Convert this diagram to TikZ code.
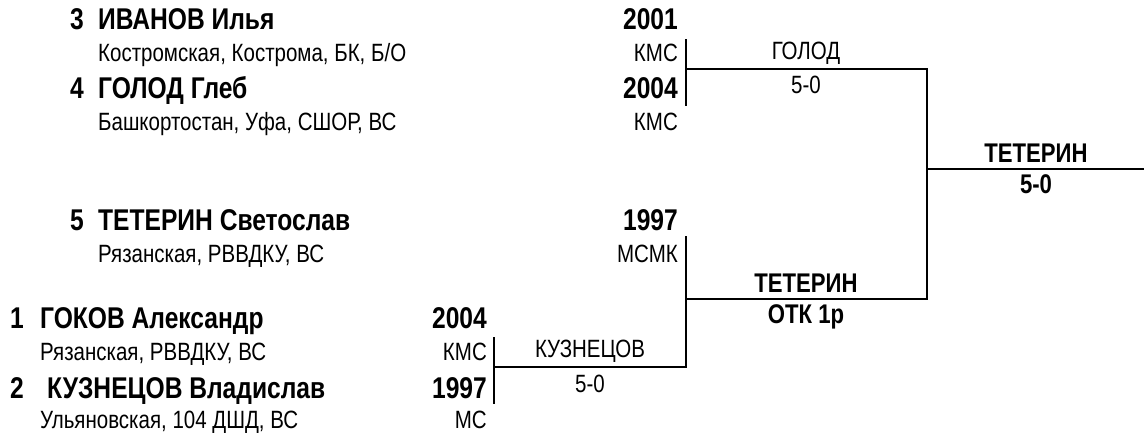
\documentclass[tikz,border=0pt]{standalone}
\usepackage{fontspec}
\setmainfont{Liberation Sans}[FakeStretch=0.82]
\begin{document}
\begin{tikzpicture}[x=1pt,y=-1pt,
  nm/.style={anchor=base west,inner sep=0pt,font=\fontsize{30}{30}\selectfont\bfseries},
  num/.style={anchor=base west,inner sep=0pt,font=\fontsize{30}{30}\selectfont\bfseries},
  cl/.style={anchor=base west,inner sep=0pt,font=\fontsize{25}{25}\selectfont},
  yr/.style={anchor=base east,inner sep=0pt,font=\fontsize{30}{30}\selectfont\bfseries},
  rk/.style={anchor=base east,inner sep=0pt,font=\fontsize{25}{25}\selectfont},
  wlab/.style={anchor=base,inner sep=0pt,font=\fontsize{27}{27}\selectfont\bfseries},
  lab/.style={anchor=base,inner sep=0pt,font=\fontsize{25}{25}\selectfont},
  br/.style={line width=2pt}]
\useasboundingbox (0,0) rectangle (1144,437);
% ---- top pair
\node[num] (n3) at (70,29) {3};
\node[nm]  (p3) at (98,29) {ИВАНОВ Илья};
\node[cl]  (c3) at (98,61) {Костромская, Кострома, БК, Б/О};
\node[yr]  (y3) at (678,29) {2001};
\node[rk]  (r3) at (678,61) {КМС};
\node[num] (n4) at (70,98) {4};
\node[nm]  (p4) at (98,98) {ГОЛОД Глеб};
\node[cl]  (c4) at (98,130) {Башкортостан, Уфа, СШОР, ВС};
\node[yr]  (y4) at (678,98) {2004};
\node[rk]  (r4) at (678,130) {КМС};
% ---- middle
\node[num] (n5) at (70,230) {5};
\node[nm]  (p5) at (98,230) {ТЕТЕРИН Светослав};
\node[cl]  (c5) at (98,262) {Рязанская, РВВДКУ, ВС};
\node[yr]  (y5) at (678,230) {1997};
\node[rk]  (r5) at (678,262) {МСМК};
% ---- bottom pair
\node[num] (n1) at (10,328) {1};
\node[nm]  (p1) at (40,328) {ГОКОВ Александр};
\node[cl]  (c1) at (40,360) {Рязанская, РВВДКУ, ВС};
\node[yr]  (y1) at (487,328) {2004};
\node[rk]  (r1) at (487,360) {КМС};
\node[num] (n2) at (10,398) {2};
\node[nm]  (p2) at (47,398) {КУЗНЕЦОВ Владислав};
\node[cl]  (c2) at (40,428) {Ульяновская, 104 ДШД, ВС};
\node[yr]  (y2) at (487,398) {1997};
\node[rk]  (r2) at (487,428) {МС};
% ---- bracket points
\coordinate (t1) at (686,39);
\coordinate (t2) at (686,106);
\coordinate (tm) at (686,69);
\coordinate (tr) at (927,69);
\coordinate (fm) at (927,169);
\coordinate (fe) at (1144,169);
\coordinate (mr) at (927,299);
\coordinate (mm) at (686,299);
\coordinate (m1) at (686,236);
\coordinate (mc) at (686,367);
\coordinate (b1) at (494,337);
\coordinate (b2) at (494,404);
\coordinate (bm) at (494,367);
\draw[br] (t1) -- (t2);
\draw[br] (tm) -- (tr) -- (mr) -- (mm);
\draw[br] (fm) -- (fe);
\draw[br] (m1) -- (mc) -- (bm);
\draw[br] (b1) -- (b2);
% ---- results
\node[lab]  (w34) at (806,59) {ГОЛОД};
\node[lab]  (s34) at (806,93) {5-0};
\node[lab]  (w12) at (590,357) {КУЗНЕЦОВ};
\node[lab]  (s12) at (590,392) {5-0};
\node[wlab] (w5)  at (806,292) {ТЕТЕРИН};
\node[wlab] (s5)  at (806,323) {ОТК 1р};
\node[wlab] (wf)  at (1036,162) {ТЕТЕРИН};
\node[wlab] (sf)  at (1036,193) {5-0};
\end{tikzpicture}
\end{document}
